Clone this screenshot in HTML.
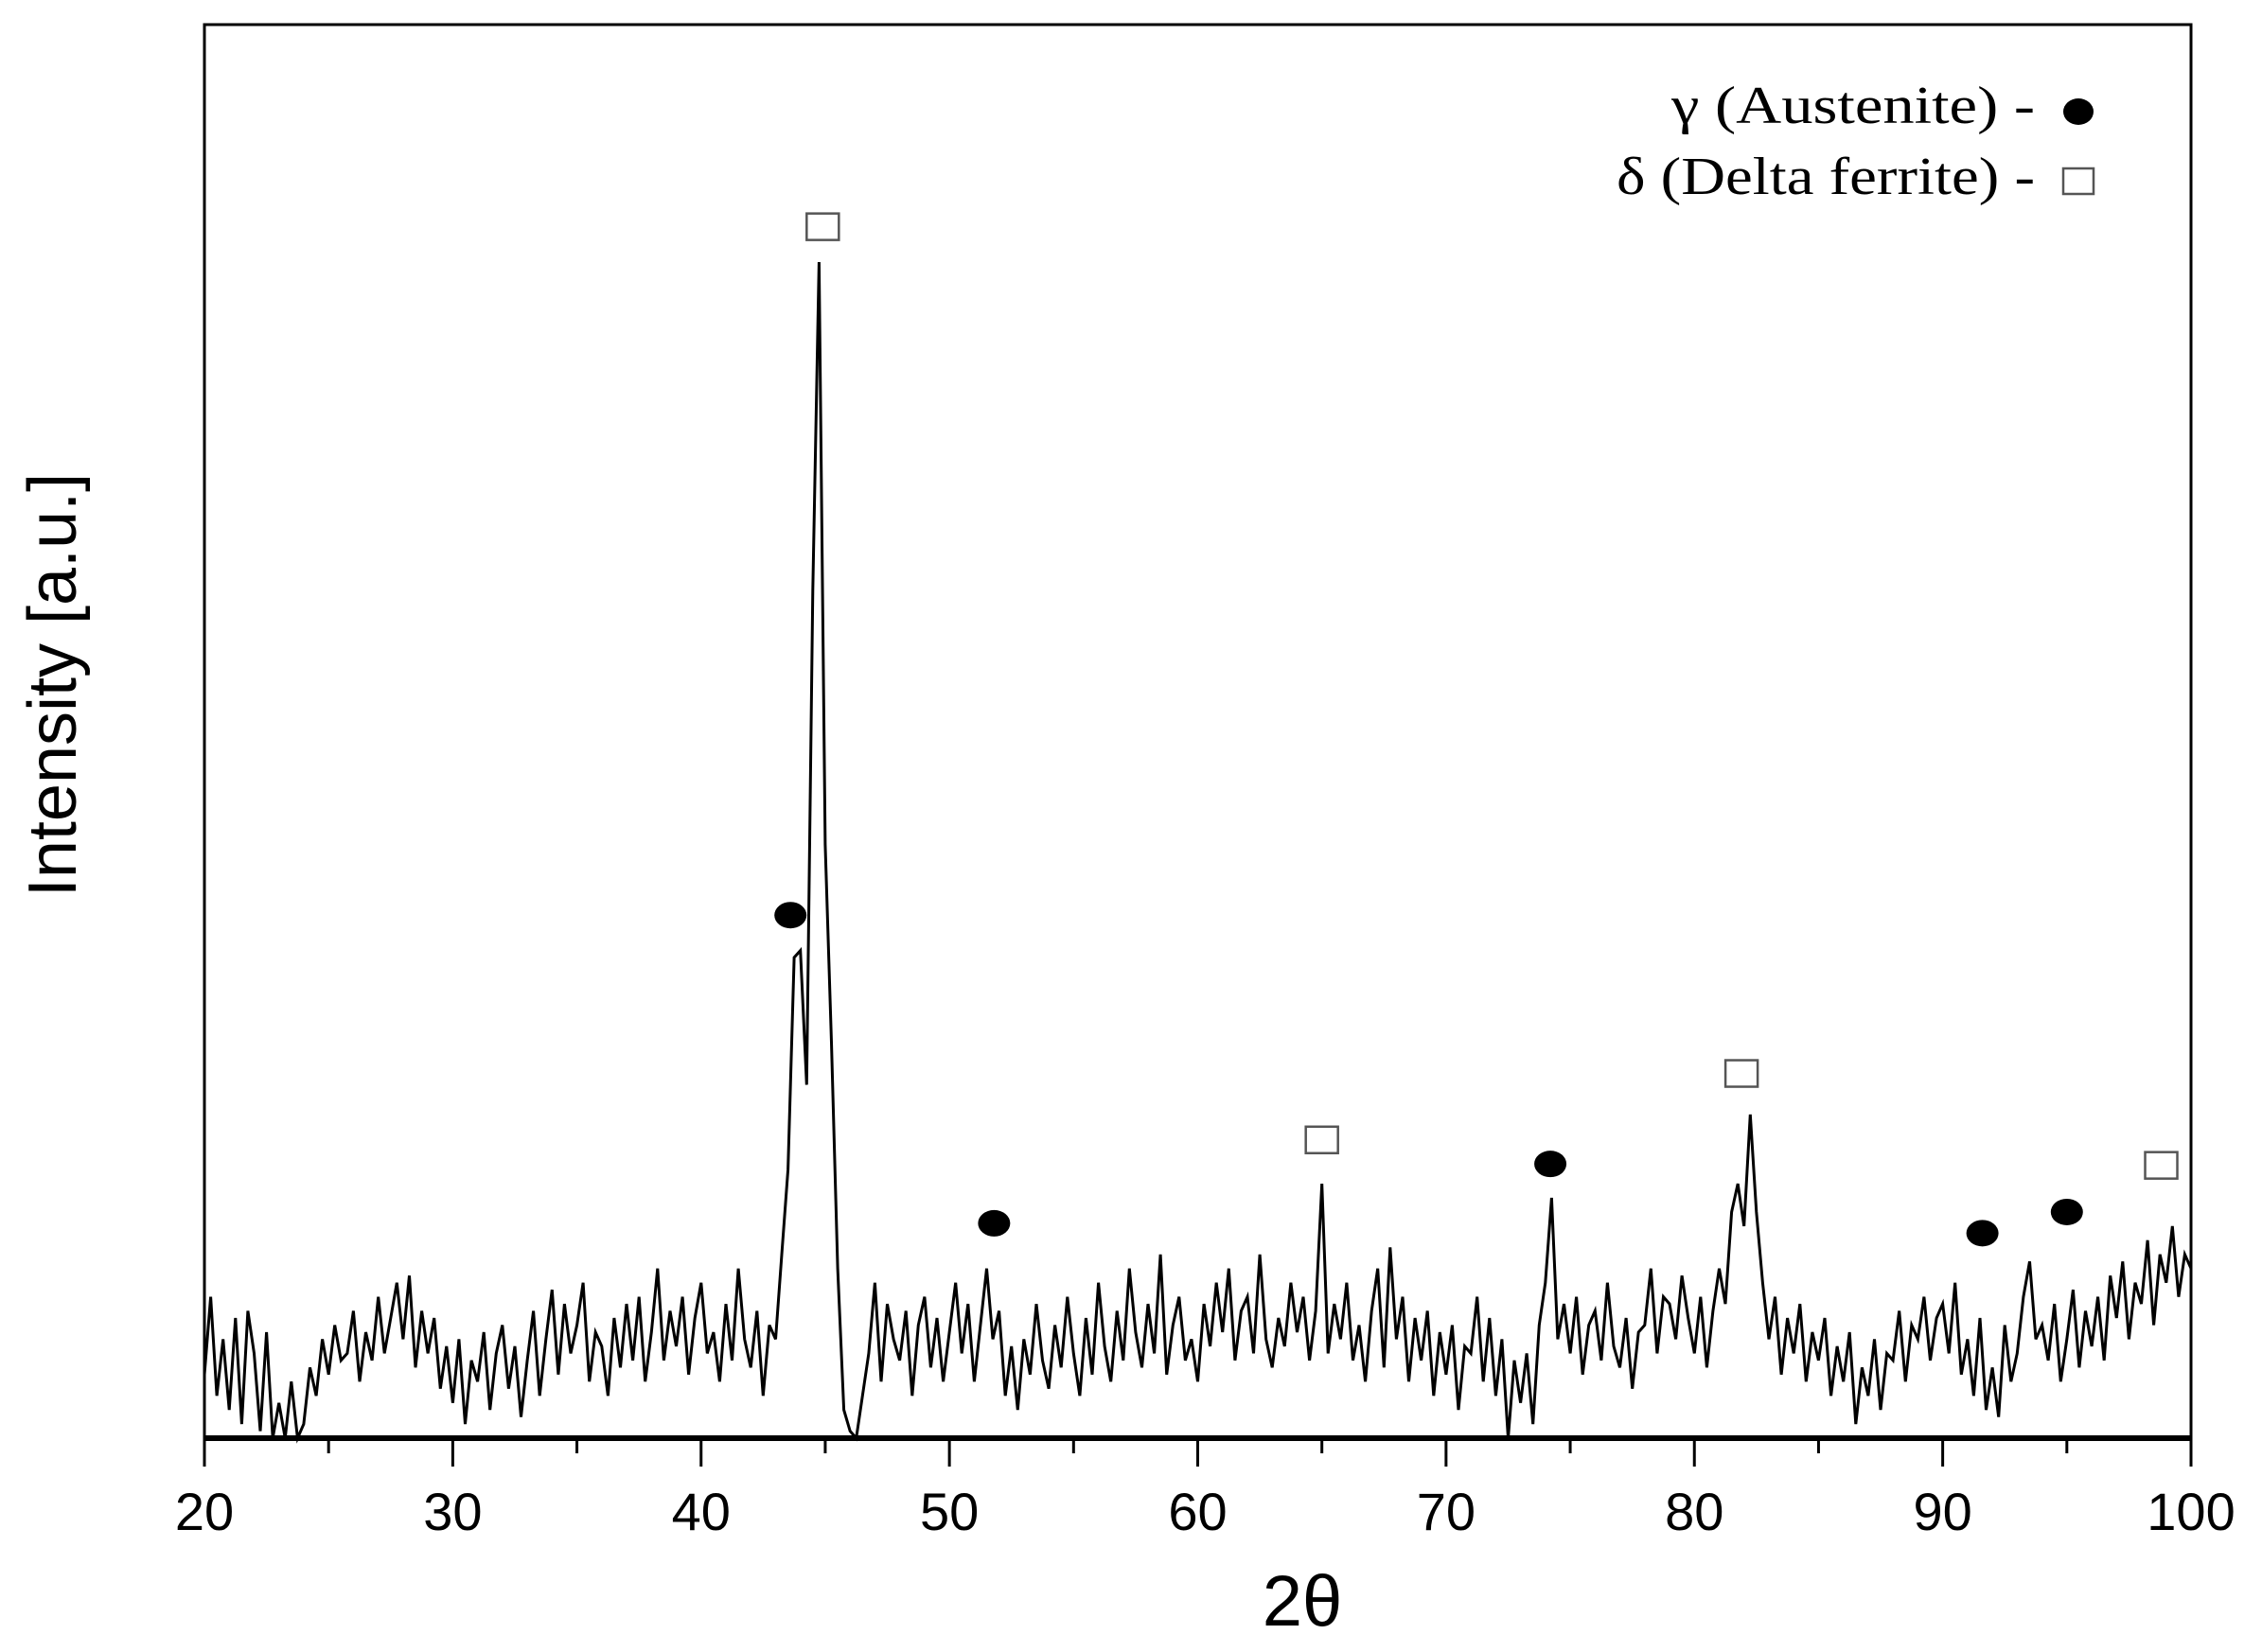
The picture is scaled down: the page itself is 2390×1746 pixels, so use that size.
<!DOCTYPE html>
<html><head><meta charset="utf-8"><style>
html,body{margin:0;padding:0;background:#fff;}
svg{display:block;}
</style></head><body>
<svg id="chart" width="2390" height="1746" viewBox="0 0 2390 1746" xmlns="http://www.w3.org/2000/svg">
<rect x="0" y="0" width="2390" height="1746" fill="#fff"/>
<g id="plot"></g>
<rect x="216" y="26" width="2099" height="1494" fill="none" stroke="#000" stroke-width="3"/>
<line x1="216" y1="1520" x2="2315" y2="1520" stroke="#000" stroke-width="6"/>
<g id="xticks"></g>
<text x="1376" y="1718" font-family="Liberation Sans, sans-serif" font-size="76" text-anchor="middle">2θ</text>
<text transform="translate(80,724) rotate(-90)" font-family="Liberation Sans, sans-serif" font-size="72" text-anchor="middle">Intensity [a.u.]</text>
<g>
<text x="1766" y="130" font-family="Liberation Serif, serif" font-size="56" textLength="384" lengthAdjust="spacingAndGlyphs">γ (Austenite) -</text>
<ellipse cx="2196" cy="118" rx="16" ry="14" fill="#000"/>
<text x="1708" y="205" font-family="Liberation Serif, serif" font-size="56" textLength="442" lengthAdjust="spacingAndGlyphs">δ (Delta ferrite) -</text>
<rect x="2180" y="178" width="32" height="27" fill="none" stroke="#555" stroke-width="2.5"/>
</g>
<g id="markers"></g>
</svg>
<script>
const xStart = 20, xStep = 0.25;
const intensity = [
45,100,30,70, 20,85,10,90, 60,5,75,0, 25,0,40,0, 10,50,30,70,
45,80,55,60, 90,40,75,55, 100,60,85,110, 70,115,50,90, 60,85,35,65,
25,70,10,55, 40,75,20,60, 80,35,65,15, 55,90,30,70, 105,45,95,60,
80,110,40,75, 65,30,85,50, 95,55,100,40, 75,120,55,90, 65,100,45,85,
110,60,75,40, 95,55,120,70, 50,90,30,80, 70,130,190,340, 345,250,600,832,
420,280,120,20, 5,0,30,60, 110,40,95,70, 55,90,30,80, 100,50,85,40,
75,110,60,95, 40,80,120,70, 90,30,65,20, 70,45,95,55, 35,80,50,100,
60,30,85,45, 110,65,40,90, 55,120,75,50, 95,60,130,45, 80,100,55,70,
40,95,65,110, 75,120,55,90, 100,60,130,70, 50,85,65,110, 75,100,55,90,
180,60,95,70, 110,55,80,40, 90,120,50,135, 70,100,40,85, 55,90,30,75,
45,80,20,65, 60,100,40,85, 30,70,0,55, 25,60,10,80, 110,170,70,95,
60,100,45,80, 90,55,110,65, 50,85,35,75, 80,120,60,100, 95,70,115,85,
60,100,50,90, 120,95,160,180, 150,229,160,110, 70,100,45,85, 60,95,40,75,
55,85,30,65, 40,75,10,50, 30,70,20,60, 55,90,40,80, 70,100,55,85,
95,60,110,45, 70,30,85,20, 50,15,80,40, 60,100,125,70, 80,55,95,40,
70,105,50,90, 65,100,55,115, 85,125,70,110, 95,140,80,130, 110,150,100,130,
120
];
const xTicks = [20,30,40,50,60,70,80,90,100];
const xMinor = [25,35,45,55,65,75,85,95];
const austeniteX = [43.6,51.8,74.2,91.6,95.0];
const austeniteY = [370,152,194,145,160];
const ferriteX = [44.9,65.0,81.9,98.8];
const ferriteY = [857,211,258,193];

const X0=216,X1=2315,Y0=1520,Y1=26,xmin=20,xmax=100,ymin=0,ymax=1000;
const sx=v=>X0+(v-xmin)/(xmax-xmin)*(X1-X0);
const sy=v=>Y0-(v-ymin)/(ymax-ymin)*(Y0-Y1);
const NS="http://www.w3.org/2000/svg";
const plot=document.getElementById('plot');
let pts=intensity.map((v,i)=>sx(xStart+i*xStep).toFixed(1)+','+sy(v).toFixed(1)).join(' ');
const pl=document.createElementNS(NS,'polyline');


pl.setAttribute('points',pts);
pl.setAttribute('fill','none');pl.setAttribute('stroke','#000');pl.setAttribute('stroke-width','3');
plot.appendChild(pl);

const xt=document.getElementById('xticks');
xTicks.forEach(t=>{
  const l=document.createElementNS(NS,'line');
  
  
  l.setAttribute('x1',sx(t));l.setAttribute('x2',sx(t));l.setAttribute('y1',1520);l.setAttribute('y2',1550);
  l.setAttribute('stroke','#000');l.setAttribute('stroke-width','3');xt.appendChild(l);
  const tx=document.createElementNS(NS,'text');
  
  
  tx.setAttribute('x',sx(t));tx.setAttribute('y',1617);tx.setAttribute('text-anchor','middle');
  tx.setAttribute('font-family','Liberation Sans, sans-serif');tx.setAttribute('font-size','56');
  tx.textContent=t;xt.appendChild(tx);
});
xMinor.forEach(t=>{
  const l=document.createElementNS(NS,'line');
  
  
  l.setAttribute('x1',sx(t));l.setAttribute('x2',sx(t));l.setAttribute('y1',1520);l.setAttribute('y2',1536);
  l.setAttribute('stroke','#000');l.setAttribute('stroke-width','3');xt.appendChild(l);
});
const mk=document.getElementById('markers');
austeniteX.forEach((x,i)=>{
  const e=document.createElementNS(NS,'ellipse');
  
  
  e.setAttribute('cx',sx(x));e.setAttribute('cy',sy(austeniteY[i]));e.setAttribute('rx',17);e.setAttribute('ry',14);
  e.setAttribute('fill','#000');mk.appendChild(e);
});
ferriteX.forEach((x,i)=>{
  const r=document.createElementNS(NS,'rect');
  
  
  r.setAttribute('x',sx(x)-17);r.setAttribute('y',sy(ferriteY[i])-14);r.setAttribute('width',34);r.setAttribute('height',28);
  r.setAttribute('fill','#fff');r.setAttribute('stroke','#555');r.setAttribute('stroke-width','2.5');mk.appendChild(r);
});
</script>
</body></html>
